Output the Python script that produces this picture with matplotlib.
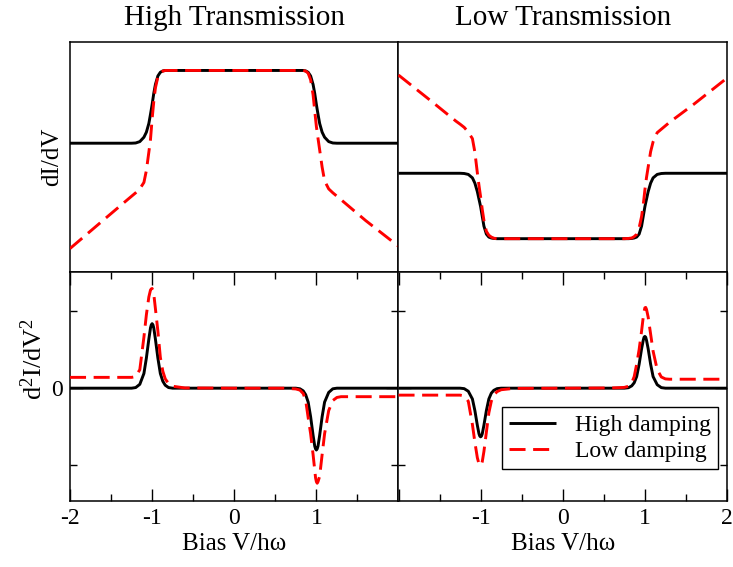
import matplotlib
matplotlib.use("Agg")
import matplotlib.pyplot as plt
from matplotlib.ticker import FixedLocator, MultipleLocator, FixedFormatter

plt.rcParams["font.family"] = ["Liberation Serif", "DejaVu Serif"]
plt.rcParams["mathtext.fontset"] = "custom"
plt.rcParams["mathtext.rm"] = "Liberation Serif"
plt.rcParams["mathtext.it"] = "Liberation Serif"
plt.rcParams["mathtext.bf"] = "Liberation Serif"

# ---------------- data ----------------
bias = [-2.0, -1.6, -1.3, -1.25, -1.2, -1.15, -1.1, -1.07, -1.04, -1.02, -1.01, -1.0, -0.99, -0.98,
        -0.96, -0.93, -0.9, -0.87, -0.84, -0.8, -0.75, -0.6,
        0.0,
        0.6, 0.75, 0.8, 0.84, 0.87, 0.9, 0.93, 0.96, 0.98, 0.99, 1.0, 1.01, 1.02, 1.04,
        1.07, 1.1, 1.15, 1.2, 1.25, 1.3, 1.6, 2.0]

# High transmission, dI/dV
hiT_dIdV_high = [0.559, 0.559, 0.559, 0.559, 0.560, 0.566, 0.585, 0.607, 0.645, 0.685, 0.706, 0.728, 0.752, 0.776,
                 0.815, 0.852, 0.868, 0.874, 0.876, 0.876, 0.876, 0.876,
                 0.876,
                 0.876, 0.876, 0.876, 0.876, 0.874, 0.868, 0.852, 0.815, 0.776, 0.752, 0.728, 0.706, 0.685, 0.645,
                 0.607, 0.585, 0.566, 0.560, 0.559, 0.559, 0.559, 0.559]
hiT_dIdV_low = [0.100, 0.222, 0.313, 0.328, 0.343, 0.360, 0.388, 0.440, 0.520, 0.575, 0.620, 0.665, 0.703, 0.740,
                0.800, 0.848, 0.866, 0.873, 0.876, 0.876, 0.876, 0.876,
                0.876,
                0.876, 0.876, 0.876, 0.876, 0.873, 0.864, 0.835, 0.770, 0.700, 0.666, 0.632, 0.606, 0.580, 0.530,
                0.455, 0.395, 0.360, 0.343, 0.328, 0.313, 0.222, 0.110]

# Low transmission, dI/dV
loT_dIdV_high = [0.428, 0.428, 0.428, 0.428, 0.427, 0.423, 0.408, 0.385, 0.348, 0.315, 0.299, 0.282, 0.261, 0.240,
                 0.198, 0.163, 0.150, 0.146, 0.144, 0.143, 0.143, 0.143,
                 0.143,
                 0.143, 0.143, 0.143, 0.144, 0.146, 0.150, 0.163, 0.198, 0.240, 0.261, 0.282, 0.299, 0.315, 0.348,
                 0.385, 0.408, 0.423, 0.427, 0.428, 0.428, 0.428, 0.428]
loT_dIdV_low = [0.856, 0.742, 0.655, 0.642, 0.628, 0.607, 0.579, 0.520, 0.430, 0.375, 0.350, 0.325, 0.297, 0.270,
                0.223, 0.175, 0.158, 0.150, 0.145, 0.143, 0.143, 0.143,
                0.143,
                0.143, 0.143, 0.144, 0.146, 0.152, 0.162, 0.190, 0.240, 0.290, 0.322, 0.355, 0.383, 0.410, 0.455,
                0.522, 0.565, 0.605, 0.620, 0.635, 0.650, 0.730, 0.843]

# High transmission, d2I/dV2
hiT_d2I_high = [0, 0, 0, 0, 0.008, 0.05, 0.19, 0.39, 0.635, 0.78, 0.82, 0.835, 0.82, 0.78,
                0.635, 0.39, 0.19, 0.09, 0.038, 0.008, 0, 0,
                0,
                0, 0, -0.008, -0.035, -0.085, -0.18, -0.37, -0.61, -0.75, -0.785, -0.80, -0.785, -0.75, -0.61,
                -0.37, -0.18, -0.055, -0.008, 0, 0, 0, 0]
hiT_d2I_low = [0.14, 0.14, 0.14, 0.14, 0.15, 0.24, 0.66, 0.95, 1.18, 1.27, 1.285, 1.29, 1.265, 1.22,
               1.03, 0.74, 0.40, 0.22, 0.12, 0.06, 0.025, 0.003,
               0,
               0.0, -0.01, -0.025, -0.07, -0.16, -0.38, -0.59, -0.86, -1.06, -1.16, -1.21, -1.23, -1.21, -1.14,
               -0.86, -0.59, -0.29, -0.16, -0.12, -0.11, -0.11, -0.11]

# Low transmission, d2I/dV2
loT_d2I_high = [0, 0, 0, 0, -0.006, -0.04, -0.14, -0.29, -0.48, -0.59, -0.62, -0.63, -0.62, -0.59,
                -0.48, -0.29, -0.14, -0.065, -0.028, -0.006, 0, 0,
                0,
                0, 0, 0.006, 0.03, 0.07, 0.15, 0.31, 0.51, 0.62, 0.66, 0.67, 0.66, 0.62, 0.51,
                0.31, 0.15, 0.045, 0.007, 0, 0, 0, 0]
loT_d2I_low = [-0.09, -0.09, -0.09, -0.09, -0.10, -0.17, -0.47, -0.70, -0.90, -0.98, -0.995, -1.0, -0.985, -0.95,
               -0.82, -0.57, -0.32, -0.17, -0.09, -0.045, -0.02, -0.003,
               0,
               0.003, 0.01, 0.025, 0.07, 0.15, 0.31, 0.50, 0.74, 0.92, 0.99, 1.04, 1.045, 1.02, 0.92,
               0.70, 0.48, 0.24, 0.145, 0.12, 0.116, 0.116, 0.116]

titles = ["High Transmission", "Low Transmission"]
legend_labels = ["High damping", "Low damping"]
xtick_vals = [-2, -1, 0, 1, 2]
left_xticklabels = ["-2", "-1", "0", "1", ""]
right_xticklabels = ["", "-1", "0", "1", "2"]

# ---------------- figure ----------------
fig = plt.figure(figsize=(7.33, 5.67), dpi=100)
gs = fig.add_gridspec(2, 2, left=70/733, right=727/733, top=1-42/567, bottom=1-501/567,
                      hspace=0, wspace=0)
axes = [[fig.add_subplot(gs[r, c]) for c in range(2)] for r in range(2)]

blk = dict(color="black", lw=2.1, solid_capstyle="butt", solid_joinstyle="round")
red = dict(color="#ff0000", lw=2.1, ls=(0, (5.5, 2.6)))

top_data = [(hiT_dIdV_high, hiT_dIdV_low), (loT_dIdV_high, loT_dIdV_low)]
bot_data = [(hiT_d2I_high, hiT_d2I_low), (loT_d2I_high, loT_d2I_low)]

FS = 17
for c in range(2):
    ax = axes[0][c]
    hi, lo = top_data[c]
    ax.plot(bias, hi, label=legend_labels[0], zorder=2, **blk)
    ax.plot(bias, lo, label=legend_labels[1], zorder=3, **red)
    ax.set_xlim(-2, 2)
    ax.set_ylim(0, 1)
    ax.set_xticks([])
    ax.set_yticks([])
    ax.set_title(titles[c], fontsize=21, pad=12)

    ax = axes[1][c]
    hi, lo = bot_data[c]
    lh, = ax.plot(bias, hi, label=legend_labels[0], zorder=2, **blk)
    ll, = ax.plot(bias, lo, label=legend_labels[1], zorder=3, **red)
    ax.set_xlim(-2, 2)
    ax.set_ylim(-1.46, 1.51)
    ax.xaxis.set_major_locator(FixedLocator(xtick_vals))
    ax.xaxis.set_major_formatter(FixedFormatter(left_xticklabels if c == 0 else right_xticklabels))
    ax.xaxis.set_minor_locator(MultipleLocator(0.5))
    ax.yaxis.set_major_locator(FixedLocator([0]))
    ax.yaxis.set_minor_locator(FixedLocator([-1, 1]))
    ax.yaxis.set_major_formatter(FixedFormatter(["0"] if c == 0 else [""]))
    ax.tick_params(which="both", direction="in", top=True, right=True, width=1.0,
                   labelsize=FS, pad=5)
    ax.tick_params(which="major", length=9)
    ax.tick_params(which="minor", length=5)
    ax.set_xlabel("Bias V/h\u03c9", fontsize=18, labelpad=3)

for row in axes:
    for ax in row:
        for s in ax.spines.values():
            s.set_linewidth(1.1)

axes[0][0].set_ylabel("dI/dV", fontsize=18)
axes[0][0].yaxis.set_label_coords(-0.02, 0.5)
axes[1][0].set_ylabel("d$^2$I/dV$^2$", fontsize=19)
axes[1][0].yaxis.set_label_coords(-0.07, 0.62)

leg = axes[1][1].legend(handles=[lh, ll], loc="lower right", bbox_to_anchor=(0.973, 0.139),
                        borderaxespad=0, fontsize=FS, frameon=True, fancybox=False,
                        edgecolor="black", framealpha=1, handlelength=2.0,
                        borderpad=0.3, labelspacing=0.2, handletextpad=0.8)
leg.get_frame().set_linewidth(1.0)

fig.savefig("out.png", dpi=100)
